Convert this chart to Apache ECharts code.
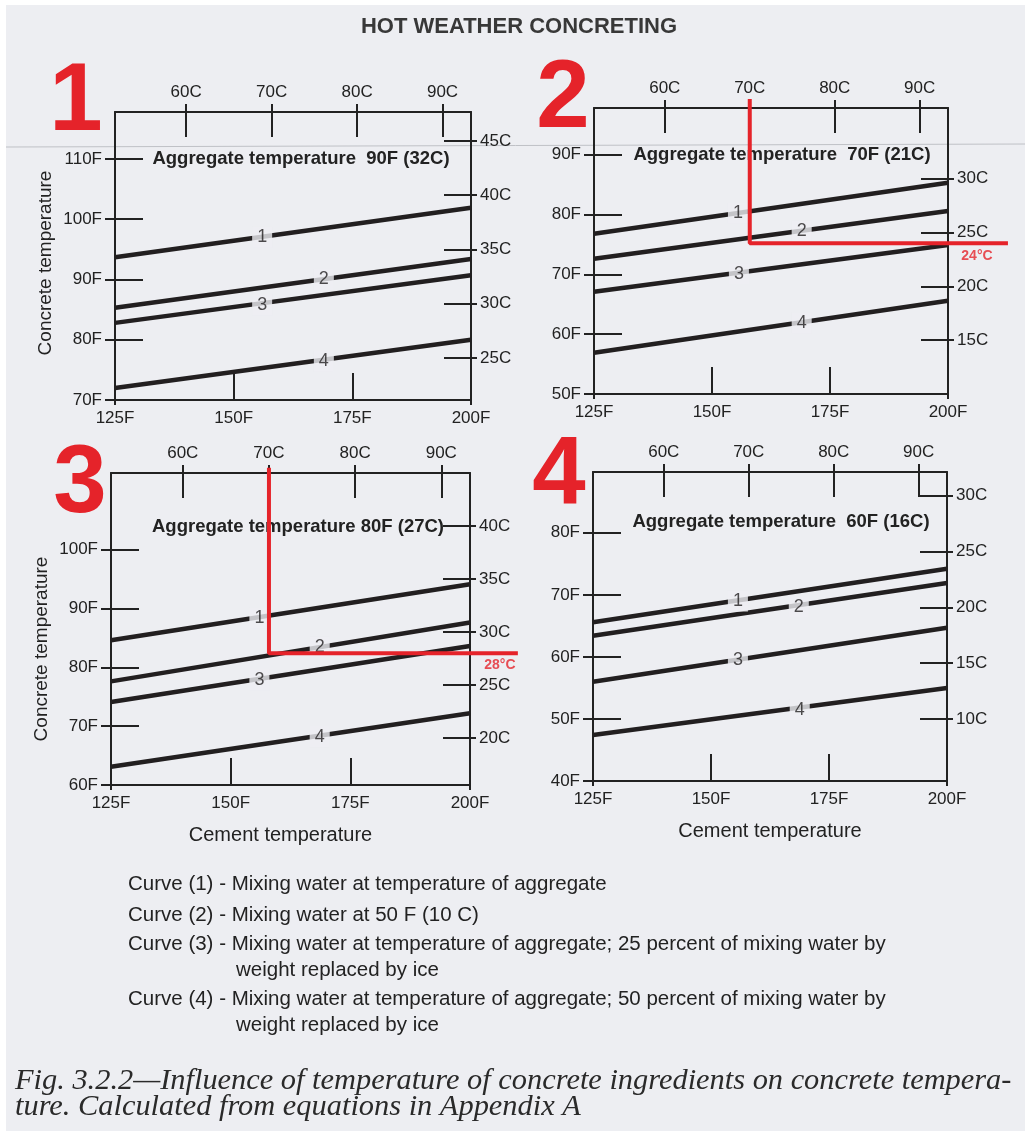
<!DOCTYPE html>
<html>
<head>
<meta charset="utf-8">
<title>Hot weather concreting</title>
<script src="https://cdn.jsdelivr.net/npm/echarts@6/dist/echarts.min.js"></script>
<style>
  html, body { margin: 0; padding: 0; background: #fff; }
  #chart { width: 1025px; height: 1131px; }
</style>
</head>
<body>
<div id="chart"></div>
<script>
// ---- data ----
// every curve is straight: value at cement 125F and at 200F
var cementF = [125, 200];
var bottomTicksF = [125, 150, 175, 200];
var topTicksC = [60, 70, 80, 90];
var curveNames = ['1', '2', '3', '4'];

// 1: aggregate 90F (32C)
var p1LeftTicks = [70, 80, 90, 100, 110];
var p1RightTicks = [25, 30, 35, 40, 45];
var p1Curves = [[93.7, 101.9], [85.3, 93.4], [82.8, 90.7], [72.0, 80.0]];
var p1LabelAt = [[156, 97.0], [169, 90.0], [156, 85.8], [169, 76.5]];

// 2: aggregate 70F (21C)
var p2LeftTicks = [50, 60, 70, 80, 90];
var p2RightTicks = [15, 20, 25, 30];
var p2Curves = [[76.8, 85.3], [72.6, 80.6], [67.1, 74.9], [56.9, 65.6]];
var p2LabelAt = [[155.5, 80.2], [169, 77.2], [155.7, 70.1], [169, 61.8]];
var p2Marker = [[158, 99.3], [158, 75.2], [212.7, 75.2]];

// 3: aggregate 80F (27C)
var p3LeftTicks = [60, 70, 80, 90, 100];
var p3RightTicks = [20, 25, 30, 35, 40];
var p3Curves = [[84.6, 94.1], [77.6, 87.6], [74.1, 83.6], [63.1, 72.2]];
var p3LabelAt = [[156, 88.3], [168.6, 83.4], [156, 77.9], [168.6, 68.2]];
var p3Marker = [[158, 113.9], [158, 82.4], [210, 82.4]];

// 4: aggregate 60F (16C)
var p4LeftTicks = [40, 50, 60, 70, 80];
var p4RightTicks = [10, 15, 20, 25, 30];
var p4Curves = [[65.6, 74.2], [63.4, 71.9], [56.0, 64.7], [47.4, 55.0]];
var p4LabelAt = [[155.7, 69.0], [168.6, 68.1], [155.7, 59.5], [168.8, 51.5]];

var aggText = [
  'Aggregate temperature  90F (32C)',
  'Aggregate temperature  70F (21C)',
  'Aggregate temperature 80F (27C)',
  'Aggregate temperature  60F (16C)'
];
var markerText = ['', '24°C', '28°C', ''];
var legendLines = [
  'Curve (1) - Mixing water at temperature of aggregate',
  'Curve (2) - Mixing water at 50 F (10 C)',
  'Curve (3) - Mixing water at temperature of aggregate; 25 percent of mixing water by',
  'weight replaced by ice',
  'Curve (4) - Mixing water at temperature of aggregate; 50 percent of mixing water by',
  'weight replaced by ice'
];
var captionLines = [
  'Fig. 3.2.2\u2014Influence of temperature of concrete ingredients on concrete tempera-',
  'ture. Calculated from equations in Appendix A'
];

// ---- layout ----
var ink = '#222222';
var curveInk = '#221f20';
var red = '#e5232a';
var paper = '#edeef2';
var sans = 'Liberation Sans';

var panels = [
  { left: 115, top: 112, width: 356, height: 288, fMin: 70, fMax: 117.8,
    leftT: p1LeftTicks, rightT: p1RightTicks, curves: p1Curves, labelAt: p1LabelAt, marker: null,
    num: [76, 104], agg: [301, 159], yName: 14, xName: null },
  { left: 594, top: 108, width: 354, height: 286, fMin: 50, fMax: 97.8,
    leftT: p2LeftTicks, rightT: p2RightTicks, curves: p2Curves, labelAt: p2LabelAt, marker: p2Marker,
    markerDx: -31, num: [563, 101], agg: [782, 155], yName: null, xName: null },
  { left: 111, top: 473, width: 359, height: 312, fMin: 60, fMax: 113,
    leftT: p3LeftTicks, rightT: p3RightTicks, curves: p3Curves, labelAt: p3LabelAt, marker: p3Marker,
    markerDx: -18, num: [80, 486], agg: [298, 527], yName: 40, xName: 20 },
  { left: 593, top: 472, width: 354, height: 309, fMin: 40, fMax: 89.8,
    leftT: p4LeftTicks, rightT: p4RightTicks, curves: p4Curves, labelAt: p4LabelAt, marker: null,
    num: [559, 478], agg: [781, 522], yName: null, xName: 0 }
];

function toC(f) { return (f - 32) / 1.8; }

function axis(g, pos, min, max, ticks, len, inside, main, unit, margin) {
  return {
    type: 'value', gridIndex: g, position: pos, min: min, max: max,
    axisLine: { show: main, onZero: false, lineStyle: { color: ink, width: 2 } },
    axisTick: { show: true, inside: inside, length: len, customValues: ticks,
      lineStyle: { color: ink, width: 2 } },
    axisLabel: { show: main, customValues: ticks, margin: margin, color: ink,
      fontSize: 17, fontFamily: sans,
      formatter: function (v) { return Math.round(v) + unit; } },
    splitLine: { show: false }
  };
}

function hiddenAxis(g, min, max) {
  return { type: 'value', gridIndex: g, min: min, max: max, show: false };
}

var grids = [], xAxes = [], yAxes = [], series = [], graphics = [];

graphics.push({ type: 'rect', shape: { x: 0, y: 0, width: 1025, height: 5 }, style: { fill: '#fff' }, z: -1 });
graphics.push({ type: 'rect', shape: { x: 0, y: 0, width: 6, height: 1131 }, style: { fill: '#fff' }, z: -1 });
graphics.push({ type: 'line', shape: { x1: 6, y1: 147, x2: 1025, y2: 144 }, style: { stroke: '#bfc1c6', lineWidth: 1 }, z: -1 });

graphics.push({ type: 'text', style: { text: 'HOT WEATHER CONCRETING', x: 519, y: 27,
  fontSize: 22, fontWeight: 'bold', fontFamily: sans, fill: '#383838',
  align: 'center', verticalAlign: 'middle' } });

panels.forEach(function (p, i) {
  grids.push({ left: p.left, top: p.top, width: p.width, height: p.height, outerBoundsMode: 'none' });
  var cMin = toC(p.fMin), cMax = toC(p.fMax);

  var xb = axis(i, 'bottom', 125, 200, bottomTicksF, 27, true, true, 'F', 10);
  if (p.xName !== null) {
    xb.name = 'Cement temperature';
    xb.nameLocation = 'middle';
    xb.nameGap = 40;
    xb.nameTextStyle = { color: ink, fontSize: 20, fontFamily: sans, padding: [0, p.xName, 0, 0] };
  }
  xAxes.push(xb);
  xAxes.push(axis(i, 'bottom', 125, 200, [125, 200], 5, false, false, 'F', 0));
  xAxes.push(axis(i, 'top', toC(125), toC(200), topTicksC, 25, true, true, 'C', 11));
  xAxes.push(axis(i, 'top', toC(125), toC(200), topTicksC, 8, false, false, 'C', 0));

  var yl = axis(i, 'left', p.fMin, p.fMax, p.leftT, 28, true, true, 'F', 13);
  if (p.yName !== null) {
    yl.name = 'Concrete temperature';
    yl.nameLocation = 'middle';
    yl.nameRotate = 90;
    yl.nameGap = 60;
    yl.nameTextStyle = { color: ink, fontSize: 19, fontFamily: sans, padding: [0, p.yName, 0, 0] };
  }
  yAxes.push(yl);
  yAxes.push(axis(i, 'left', p.fMin, p.fMax, p.leftT, 10, false, false, 'F', 0));
  yAxes.push(axis(i, 'right', cMin, cMax, p.rightT, 27, true, true, 'C', 9));
  yAxes.push(axis(i, 'right', cMin, cMax, p.rightT, 6, false, false, 'C', 0));

  p.curves.forEach(function (c) {
    series.push({
      type: 'line', xAxisIndex: 4 * i, yAxisIndex: 4 * i, symbol: 'none', silent: true,
      data: [[cementF[0], c[0]], [cementF[1], c[1]]],
      lineStyle: { color: curveInk, width: 4.5 }, z: 3
    });
  });

  series.push({
    type: 'scatter', xAxisIndex: 4 * i, yAxisIndex: 4 * i, symbolSize: 0, silent: true, z: 4,
    data: p.labelAt.map(function (d, k) { return { value: d, name: curveNames[k] }; }),
    label: { show: true, position: 'inside', formatter: '{b}', color: curveInk, fontSize: 18,
      fontFamily: sans, backgroundColor: paper, padding: [2, 5, 1, 5] }
  });

  graphics.push({ type: 'text', style: { text: String(i + 1), x: p.num[0], y: p.num[1],
    fontSize: 96, fontWeight: 'bold', fontFamily: sans, fill: red,
    align: 'center', verticalAlign: 'middle' } });
  graphics.push({ type: 'text', z: 5, style: { text: aggText[i], x: p.agg[0], y: p.agg[1],
    fontSize: 18.5, fontWeight: 'bold', fontFamily: sans, fill: ink,
    align: 'center', verticalAlign: 'middle' } });
});

// red reading lines: drawn in an overlay grid with the same scale as their
// panel but stretched so that the marker reaches past the frame unclipped
panels.forEach(function (p, i) {
  if (!p.marker) return;
  var xs = p.marker.map(function (d) { return d[0]; });
  var ys = p.marker.map(function (d) { return d[1]; });
  var xMax = Math.max.apply(null, xs), yMax = Math.max.apply(null, ys);
  var pxF = p.width / (cementF[1] - cementF[0]);
  var pyF = p.height / (p.fMax - p.fMin);
  var g = grids.length;
  grids.push({
    left: p.left, top: p.top - (yMax - p.fMax) * pyF,
    width: (xMax - cementF[0]) * pxF, height: (yMax - p.fMin) * pyF,
    outerBoundsMode: 'none'
  });
  xAxes.push(hiddenAxis(g, cementF[0], xMax));
  yAxes.push(hiddenAxis(g, p.fMin, yMax));
  var ax = xAxes.length - 1, ay = yAxes.length - 1;
  series.push({
    type: 'line', xAxisIndex: ax, yAxisIndex: ay, symbol: 'none', silent: true,
    clip: false, z: 6, data: p.marker,
    lineStyle: { color: red, width: 4 }
  });
  series.push({
    type: 'scatter', xAxisIndex: ax, yAxisIndex: ay, symbolSize: 1, silent: true,
    clip: false, z: 6, data: [p.marker[p.marker.length - 1]],
    itemStyle: { color: 'transparent' },
    label: { show: true, position: 'bottom', distance: 5, offset: [p.markerDx, 0],
      formatter: markerText[i], color: red, fontSize: 14, fontWeight: 'bold', fontFamily: sans }
  });
});

var legendY = [884, 915, 944, 970, 999, 1025];
legendLines.forEach(function (t, k) {
  var indent = (k === 3 || k === 5) ? 236 : 128;
  graphics.push({ type: 'text', style: { text: t, x: indent, y: legendY[k],
    fontSize: 20.5, fontFamily: sans, fill: ink, verticalAlign: 'middle' } });
});
captionLines.forEach(function (t, k) {
  graphics.push({ type: 'text', style: { text: t, x: 15, y: 1081 + 26 * k,
    fontSize: 30.4, fontStyle: 'italic', fontFamily: 'Liberation Serif', fill: '#2a2a2a',
    verticalAlign: 'middle' } });
});

var chart = echarts.init(document.getElementById('chart'));
chart.setOption({
  backgroundColor: paper,
  animation: false,
  grid: grids,
  xAxis: xAxes,
  yAxis: yAxes,
  series: series,
  graphic: { elements: graphics }
});
</script>
</body>
</html>
